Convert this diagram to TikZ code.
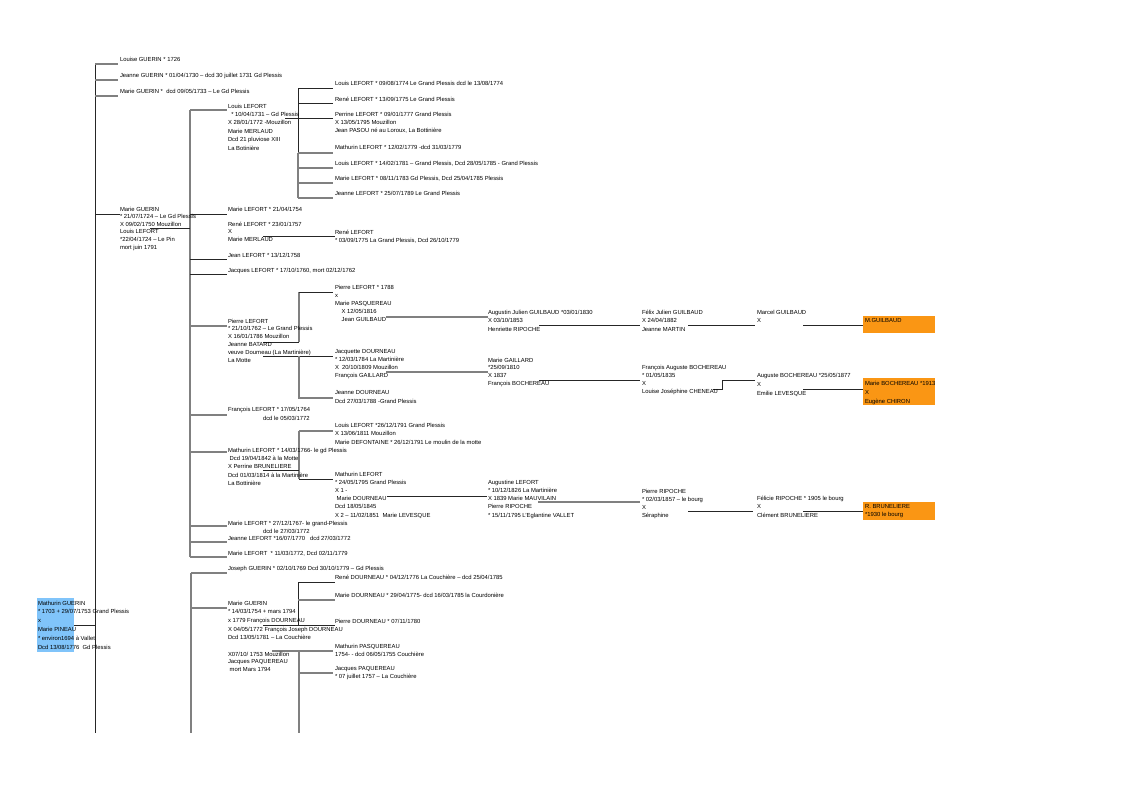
\documentclass[tikz,border=0pt]{standalone}
\usepackage{fontspec}
\setmainfont{Liberation Sans}
\definecolor{boxblue}{RGB}{128,196,250}
\definecolor{boxorange}{RGB}{250,150,20}
\begin{document}
\begin{tikzpicture}[x=0.75pt,y=-0.75pt,
  tx/.style={anchor=north west,inner sep=0pt,outer sep=0pt,align=left,yshift=1.65pt,font=\fontsize{4.4pt}{#1pt}\selectfont},
  tx/.default=6,
  ln/.style={line width=0.55pt,draw=black!85},
  lg/.style={line width=0.9pt,draw=black!50}]
\path[use as bounding box,fill=white] (0,0) rectangle (1123,794);
% coloured boxes
\fill[boxblue] (37,598) rectangle (74,652);
\fill[boxorange] (863,316) rectangle (935,333);
\fill[boxorange] (863,378) rectangle (935,405);
\fill[boxorange] (863,502) rectangle (935,520);
% ---------- trunk
\coordinate (trunkTop) at (95,64);
\coordinate (trunkBot) at (95,733);
\draw[ln] (trunkTop) -- (trunkBot);
\draw[lg] (95,64) -- (118,64) (95,80) -- (118,80) (95,96) -- (118,96);
\draw[ln] (95,214) -- (120,214);
\draw[ln] (74,625) -- (95,625);
% ---------- children of Marie GUERIN x Louis LEFORT
\draw[lg] (190,110) -- (190,557);
\draw[ln] (150,228) -- (190,228);
\draw[lg] (190,110) -- (227,110);
\draw[ln] (190,214) -- (227,214) (190,259) -- (227,259) (190,274) -- (227,274);
\draw[lg] (190,326) -- (227,326) (190,415) -- (227,415) (190,452) -- (227,452)
          (190,526) -- (227,526) (190,542) -- (227,542) (190,557) -- (227,557);
% Louis LEFORT 1731 children
\draw[ln] (298,88) -- (298,153);
\draw[lg] (298,153) -- (298,198);
\draw[ln] (298,88) -- (333,88) (298,103) -- (333,103) (285,118) -- (333,118);
\draw[lg] (298,153) -- (333,153) (298,168) -- (333,168) (298,183) -- (333,183) (298,198) -- (333,198);
% René 1757
\draw[ln] (263,236) -- (335,236);
% Pierre LEFORT 1762
\draw[lg] (299,292) -- (299,342);
\draw[ln] (299,292) -- (333,292) (263,342) -- (299,342);
\draw[ln] (263,356) -- (333,356);
\draw[lg] (299,356) -- (299,398) -- (333,398);
\draw[lg] (386,317) -- (488,317);
\draw[ln] (539,325) -- (640,325) (688,325) -- (755,325) (803,325) -- (863,325);
\draw[lg] (386,372) -- (488,372);
\draw[ln] (539,380) -- (640,380) (713,389) -- (722,389) -- (722,380) -- (755,380) (803,389) -- (863,389);
% Mathurin LEFORT 1766
\draw[lg] (299,431) -- (299,479) (299,431) -- (333,431);
\draw[ln] (299,479) -- (333,479) (263,470) -- (299,470);
\draw[ln] (387,496) -- (487,496);
\draw[lg] (538,502) -- (640,502);
\draw[ln] (688,511) -- (753,511) (803,511) -- (863,511);
% ---------- lower part
\draw[lg] (191,573) -- (191,733) (191,573) -- (227,573) (191,608) -- (227,608);
\draw[ln] (298,582) -- (298,625) (298,582) -- (335,582);
\draw[lg] (298,600) -- (335,600);
\draw[ln] (263,625) -- (335,625);
\draw[lg] (272,651) -- (333,651) (299,651) -- (299,733) (299,673) -- (333,673);
% ---------- texts
\node[tx] (t1) at (120,59) {Louise GUERIN * 1726};
\node[tx] (t2) at (120,75) {Jeanne GUERIN * 01/04/1730 – dcd 30 juillet 1731 Gd Plessis};
\node[tx] (t3) at (120,91) {Marie GUERIN *\ \ dcd 09/05/1733 – Le Gd Plessis};
\node[tx=6.3] (t4) at (228,106) {Louis LEFORT\\\ \ * 10/04/1731 – Gd Plessis\\X 28/01/1772 -Mouzillon\\Marie MERLAUD\\Dcd 21 pluviose XIII\\La Botinière};
\node[tx] (t5) at (335,83) {Louis LEFORT * 09/08/1774 Le Grand Plessis dcd le 13/08/1774};
\node[tx] (t6) at (335,99) {René LEFORT * 13/09/1775 Le Grand Plessis};
\node[tx] (t7) at (335,114) {Perrine LEFORT * 09/01/1777 Grand Plessis\\X 13/05/1795 Mouzillon\\Jean PASOU né au Loroux, La Bottinière};
\node[tx] (t8) at (335,147) {Mathurin LEFORT * 12/02/1779 -dcd 31/03/1779};
\node[tx] (t9) at (335,163) {Louis LEFORT * 14/02/1781 – Grand Plessis, Dcd 28/05/1785 - Grand Plessis};
\node[tx] (t10) at (335,178) {Marie LEFORT * 08/11/1783 Gd Plessis, Dcd 25/04/1785 Plessis};
\node[tx] (t11) at (335,193) {Jeanne LEFORT * 25/07/1789 Le Grand Plessis};
\node[tx=5.7] (t12) at (120,209) {Marie GUERIN\\* 21/07/1724 – Le Gd Plessis\\X 09/02/1750 Mouzillon\\Louis LEFORT\\*22/04/1724 – Le Pin\\mort juin 1791};
\node[tx] (t13) at (228,209) {Marie LEFORT * 21/04/1754};
\node[tx=5.65] (t14) at (228,224) {René LEFORT * 23/01/1757\\X\\Marie MERLAUD};
\node[tx] (t15) at (335,232) {René LEFORT\\* 03/09/1775 La Grand Plessis, Dcd 26/10/1779};
\node[tx] (t16) at (228,255) {Jean LEFORT * 13/12/1758};
\node[tx] (t17) at (228,270) {Jacques LEFORT * 17/10/1760, mort 02/12/1762};
\node[tx=6.15] (t18) at (335,287) {Pierre LEFORT * 1788\\x\\Marie PASQUEREAU\\\hspace{5pt}X 12/05/1816\\\hspace{5pt}Jean GUILBAUD};
\node[tx=5.85] (t19) at (228,321) {Pierre LEFORT\\* 21/10/1762 – Le Grand Plessis\\X 16/01/1786 Mouzillon\\Jeanne BATARD\\veuve Dourneau (La Martinière)\\La Motte};
\node[tx=5.8] (t20) at (335,352) {Jacquette DOURNEAU\\* 12/03/1784 La Martinière\\X\ \ 20/10/1809 Mouzillon\\François GAILLARD};
\node[tx=6.75] (t21) at (335,393) {Jeanne DOURNEAU\\Dcd 27/03/1788 -Grand Plessis};
\node[tx=6.4] (t22) at (488,312) {Augustin Julien GUILBAUD *03/01/1830\\X 03/10/1853\\Henriette RIPOCHE};
\node[tx=6.4] (t23) at (642,312) {Félix Julien GUILBAUD\\X 24/04/1882\\Jeanne MARTIN};
\node[tx=6.4] (t24) at (757,312) {Marcel GUILBAUD\\X};
\node[tx] (t25) at (865,321) {M.GUILBAUD};
\node[tx=5.8] (t26) at (488,360) {Marie GAILLARD\\*25/09/1810\\X 1837\\François BOCHEREAU};
\node[tx=6.2] (t27) at (642,367) {François Auguste BOCHEREAU\\* 01/05/1835\\X\\Louise Joséphine CHENEAU};
\node[tx=6.75] (t28) at (757,375) {Auguste BOCHEREAU *25/05/1877\\X\\Emilie LEVESQUE};
\node[tx=7.1] (t29) at (865,383) {Marie BOCHEREAU *1913\\X\\Eugène CHIRON};
\node[tx] (t30) at (228,409) {François LEFORT * 17/05/1764};
\node[tx] (t31) at (263,418) {dcd le 05/03/1772};
\node[tx=6.4] (t32) at (335,425) {Louis LEFORT *26/12/1791 Grand Plessis\\X 13/06/1811 Mouzillon\\Marie DEFONTAINE * 26/12/1791 Le moulin de la motte};
\node[tx=6.25] (t33) at (228,450) {Mathurin LEFORT * 14/03/1766- le gd Plessis\\\ Dcd 19/04/1842 à la Motte\\X Perrine BRUNELIERE\\Dcd 01/03/1814 à la Martinière\\La Bottinière};
\node[tx=6.15] (t34) at (335,474) {Mathurin LEFORT\\* 24/05/1795 Grand Plessis\\X 1 -\\\ Marie DOURNEAU\\Dcd 18/05/1845\\X 2 – 11/02/1851\ \ Marie LEVESQUE};
\node[tx=6.2] (t35) at (488,482) {Augustine LEFORT\\* 10/12/1826 La Martinière\\X 1839 Marie MAUVILAIN\\Pierre RIPOCHE\\* 15/11/1795 L'Eglantine VALLET};
\node[tx] (t36) at (642,491) {Pierre RIPOCHE\\* 02/03/1857 – le bourg\\X\\Séraphine};
\node[tx=6.4] (t37) at (757,498) {Félicie RIPOCHE * 1905 le bourg\\X\\Clément BRUNELIERE};
\node[tx] (t38) at (865,507) {R. BRUNELIERE\\*1930 le bourg};
\node[tx] (t39) at (228,523) {Marie LEFORT * 27/12/1767- le grand-Plessis};
\node[tx] (t40) at (263,531) {dcd le 27/03/1772};
\node[tx] (t41) at (228,538) {Jeanne LEFORT *16/07/1770 \ \ dcd 27/03/1772};
\node[tx] (t42) at (228,553) {Marie LEFORT\ \ * 11/03/1772, Dcd 02/11/1779};
\node[tx] (t43) at (228,568) {Joseph GUERIN * 02/10/1769 Dcd 30/10/1779 – Gd Plessis};
\node[tx] (t44) at (335,577) {René DOURNEAU * 04/12/1776 La Couchière – dcd 25/04/1785};
\node[tx] (t45) at (335,595) {Marie DOURNEAU * 29/04/1775- dcd 16/03/1785 la Courdonière};
\node[tx=6.5] (t46) at (228,603) {Marie GUERIN\\* 14/03/1754 + mars 1794\\x 1779 François DOURNEAU\\X 04/05/1772 François Joseph DOURNEAU\\Dcd 13/05/1781 – La Couchière};
\node[tx] (t47) at (335,621) {Pierre DOURNEAU * 07/11/1780};
\node[tx] (t48) at (335,646) {Mathurin PASQUEREAU\\1754- - dcd 06/05/1755 Couchière};
\node[tx=5.8] (t49) at (228,654) {X07/10/ 1753 Mouzillon\\Jacques PAQUEREAU\\\ mort Mars 1794};
\node[tx] (t50) at (335,669) {Jacques PAQUEREAU\\* 07 juillet 1757 – La Couchière};
\node[tx=6.6] (t51) at (38,603) {Mathurin GUERIN\\* 1703 + 29/07/1753 Grand Plessis\\x\\Marie PINEAU\\* environ1694 à Vallet\\Dcd 13/08/1776\ \ Gd Plessis};
\end{tikzpicture}
\end{document}
